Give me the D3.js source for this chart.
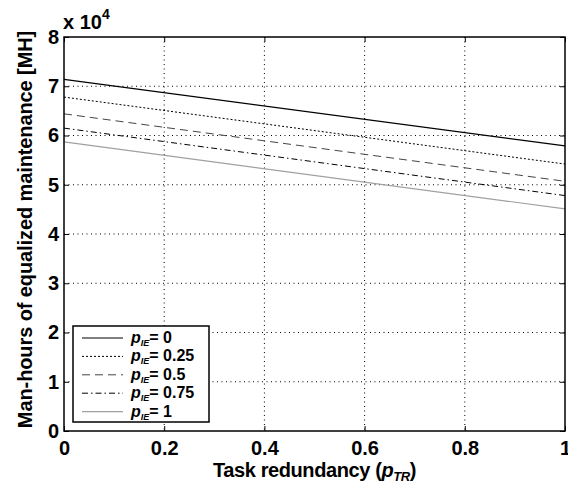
<!DOCTYPE html>
<html>
<head>
<meta charset="utf-8">
<script src="https://cdn.jsdelivr.net/npm/d3@7"></script>
<style>
  body { margin: 0; background: #fff; }
  svg text { font-family: "Liberation Sans", Arial, sans-serif; font-weight: bold; }
</style>
</head>
<body>
<div id="chart"></div>
<script>
// Data (values in units of 10^4 MH)
const pTR = [0, 1];
const pIE = ['0', '0.25', '0.5', '0.75', '1'];
const series0 = [7.14, 5.79];
const series025 = [6.78, 5.42];
const series05 = [6.44, 5.07];
const series075 = [6.15, 4.78];
const series1 = [5.87, 4.51];
const xTicks = [0, 0.2, 0.4, 0.6, 0.8, 1];
const yTicks = [0, 1, 2, 3, 4, 5, 6, 7, 8];

const W = 568, H = 493;
const plotLeft = 64, plotTop = 37, plotRight = 565, plotBottom = 431;

const lineStyles = [
  { color: '#000', dash: null, width: 1.2 },
  { color: '#000', dash: '2,2', width: 1 },
  { color: '#444', dash: '8,5', width: 1 },
  { color: '#000', dash: '6,3,1.5,3', width: 1 },
  { color: '#a0a0a0', dash: null, width: 1.2 }
];
const allSeries = [series0, series025, series05, series075, series1];

const svg = d3.select('#chart').append('svg')
  .attr('width', W)
  .attr('height', H);

const x = d3.scaleLinear().domain([0, 1]).range([plotLeft, plotRight]);
const y = d3.scaleLinear().domain([0, 8]).range([plotBottom, plotTop]);

// grid lines (dotted, MATLAB style)
svg.append('g').selectAll('line')
  .data(xTicks.slice(1, -1))
  .enter().append('line')
  .attr('x1', d => x(d)).attr('x2', d => x(d))
  .attr('y1', plotTop).attr('y2', plotBottom)
  .style('stroke', '#000').style('stroke-width', 1)
  .style('stroke-dasharray', '1,3.5');

svg.append('g').selectAll('line')
  .data(yTicks.slice(1, -1))
  .enter().append('line')
  .attr('x1', plotLeft).attr('x2', plotRight)
  .attr('y1', d => y(d)).attr('y2', d => y(d))
  .style('stroke', '#000').style('stroke-width', 1)
  .style('stroke-dasharray', '1,3.5');

// data lines
const line = d3.line()
  .x((d, i) => x(pTR[i]))
  .y(d => y(d));

allSeries.forEach((s, i) => {
  svg.append('path')
    .datum(s)
    .attr('d', line)
    .style('fill', 'none')
    .style('stroke', lineStyles[i].color)
    .style('stroke-width', lineStyles[i].width)
    .style('stroke-dasharray', lineStyles[i].dash);
});

// axes with inward ticks on all four sides
const tickLen = 5;
const xAxisB = d3.axisBottom(x).tickValues(xTicks).tickSizeInner(-tickLen).tickSizeOuter(0).tickPadding(10)
  .tickFormat(d => d === 0 || d === 1 ? d3.format('d')(d) : d3.format('.1f')(d));
const xAxisT = d3.axisTop(x).tickValues(xTicks).tickSizeInner(-tickLen).tickSizeOuter(0).tickFormat('');
const yAxisL = d3.axisLeft(y).tickValues(yTicks).tickSizeInner(-tickLen).tickSizeOuter(0).tickPadding(5)
  .tickFormat(d3.format('d'));
const yAxisR = d3.axisRight(y).tickValues(yTicks).tickSizeInner(-tickLen).tickSizeOuter(0).tickFormat('');

function styleAxis(g) {
  g.select('.domain').remove();
  g.selectAll('line').style('stroke', '#000').style('stroke-width', 1);
  g.selectAll('text').style('font-size', '20px').style('fill', '#000');
  g.attr('font-family', null).attr('font-size', null);
}

svg.append('g').attr('transform', `translate(0,${plotBottom})`).call(xAxisB).call(styleAxis);
svg.append('g').attr('transform', `translate(0,${plotTop})`).call(xAxisT).call(styleAxis);
svg.append('g').attr('transform', `translate(${plotLeft},0)`).call(yAxisL).call(styleAxis);
svg.append('g').attr('transform', `translate(${plotRight},0)`).call(yAxisR).call(styleAxis);

// box
svg.append('rect')
  .attr('x', plotLeft).attr('y', plotTop)
  .attr('width', plotRight - plotLeft).attr('height', plotBottom - plotTop)
  .style('fill', 'none').style('stroke', '#000').style('stroke-width', 1.5);

// exponent label
const expo = svg.append('text')
  .attr('x', 63).attr('y', 29)
  .style('font-size', '20px');
expo.append('tspan').text('x 10');
expo.append('tspan').attr('dy', -10).style('font-size', '14px').text('4');

// axis labels
const xl = svg.append('text')
  .attr('x', (plotLeft + plotRight) / 2).attr('y', 477)
  .attr('text-anchor', 'middle')
  .style('font-size', '20px')
  .style('letter-spacing', '-0.4px');
xl.append('tspan').text('Task redundancy (');
xl.append('tspan').style('font-style', 'italic').text('p');
xl.append('tspan').attr('dy', 4).style('font-style', 'italic').style('font-size', '13px').text('TR');
xl.append('tspan').attr('dy', -4).text(')');

svg.append('text')
  .attr('transform', `translate(32,${(29 + 430) / 2}) rotate(-90)`)
  .attr('text-anchor', 'middle')
  .style('font-size', '20px')
  .style('letter-spacing', '-0.1px')
  .text('Man-hours of equalized maintenance [MH]');

// legend
const legend = svg.append('g');
legend.append('rect')
  .attr('x', 73).attr('y', 326)
  .attr('width', 136).attr('height', 96)
  .style('fill', '#fff').style('stroke', '#000').style('stroke-width', 1.5);

pIE.forEach((v, i) => {
  const ly = 338 + i * 18.4;
  legend.append('line')
    .attr('x1', 82).attr('x2', 123)
    .attr('y1', ly).attr('y2', ly)
    .style('stroke', lineStyles[i].color)
    .style('stroke-width', lineStyles[i].width)
    .style('stroke-dasharray', lineStyles[i].dash);
  const t = legend.append('text')
    .attr('x', 131).attr('y', ly + 5)
    .style('font-size', '16px');
  t.append('tspan').style('font-style', 'italic').text('p');
  t.append('tspan').attr('dy', 3).style('font-style', 'italic').style('font-size', '9px').text('IE');
  t.append('tspan').attr('dy', -3).text('= ' + v);
});
</script>
</body>
</html>
